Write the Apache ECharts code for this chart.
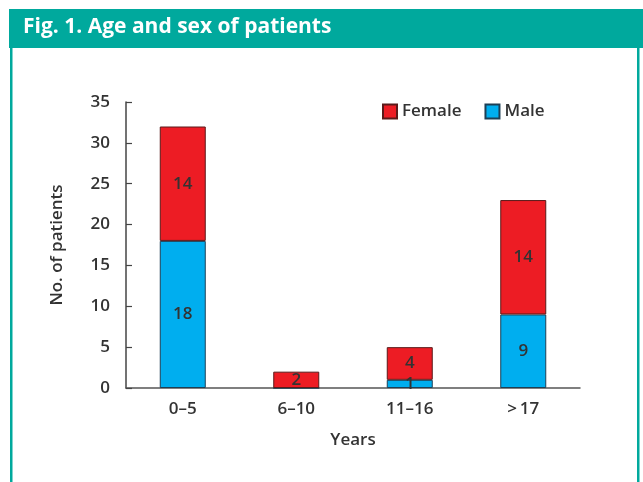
<!DOCTYPE html>
<html>
<head>
<meta charset="utf-8">
<script src="https://cdn.jsdelivr.net/npm/echarts@6/dist/echarts.min.js"></script>
<style>
  html, body { margin: 0; padding: 0; background: #fff; }
  #chart { width: 643px; height: 482px; }
</style>
</head>
<body>
<div id="chart"></div>
<script>
var ageGroups = ['0\u20135', '6\u201310', '11\u201316', '>\u200917'];
var maleCounts = [18, 0, 1, 9];
var femaleCounts = [14, 2, 4, 14];
var yTicks = [0, 5, 10, 15, 20, 25, 30, 35];

var teal = '#00A99D';
var textColor = '#333333';
var fontName = 'Open Sans';

var chartDom = document.getElementById('chart');
var myChart = echarts.init(chartDom);
var option;

// hide the label of empty segments
function segmentLabel(params) {
  return params.value > 0 ? String(params.value) : '';
}

option = {
  animation: false,
  textStyle: { fontFamily: fontName },
  graphic: [
    // header band
    { type: 'rect', shape: { x: 9, y: 9, width: 634, height: 39 }, style: { fill: teal } },
    { type: 'text', left: 23, top: 17, style: { text: 'Fig. 1. Age and sex of patients', fill: '#fff', font: 'bold 21px "Open Sans"' } },
    // side borders of the panel
    { type: 'rect', shape: { x: 10, y: 48, width: 2.5, height: 434 }, style: { fill: teal } },
    { type: 'rect', shape: { x: 637, y: 48, width: 2.5, height: 434 }, style: { fill: teal } }
  ],
  legend: {
    data: ['Female', 'Male'],
    top: 98,
    left: 377,
    icon: 'rect',
    itemWidth: 14,
    itemHeight: 14,
    itemGap: 23,
    textStyle: { fontSize: 17, fontWeight: 600, color: textColor, fontFamily: fontName }
  },
  grid: { left: 126, right: 63, top: 102, bottom: 94 },
  xAxis: {
    type: 'category',
    data: ageGroups,
    name: 'Years',
    nameLocation: 'middle',
    nameGap: 44,
    nameTextStyle: { fontSize: 17, fontWeight: 600, color: textColor },
    axisLine: { lineStyle: { color: '#555', width: 1.5 } },
    axisTick: { show: false },
    axisLabel: { fontSize: 17, fontWeight: 600, color: textColor, margin: 13 }
  },
  yAxis: {
    type: 'value',
    min: 0,
    max: yTicks[yTicks.length - 1],
    interval: 5,
    name: 'No. of patients',
    nameLocation: 'middle',
    nameGap: 60,
    nameTextStyle: { fontSize: 17, fontWeight: 600, color: textColor },
    axisLine: { show: true, lineStyle: { color: '#444', width: 1.5 } },
    axisTick: { show: true, inside: true, length: 6, lineStyle: { color: '#444', width: 1.2 } },
    axisLabel: { fontSize: 17, fontWeight: 600, color: textColor, margin: 16 },
    splitLine: { show: false }
  },
  series: [
    {
      name: 'Male',
      type: 'bar',
      stack: 'total',
      barWidth: 46,
      data: maleCounts,
      itemStyle: { color: '#00AEEF', borderColor: '#1d3f55', borderWidth: 1 },
      label: { show: true, position: 'inside', formatter: segmentLabel, fontSize: 17, fontWeight: 600, color: textColor }
    },
    {
      name: 'Female',
      type: 'bar',
      stack: 'total',
      barWidth: 46,
      data: femaleCounts,
      itemStyle: { color: '#ED1C24', borderColor: '#5a1a1a', borderWidth: 1 },
      label: { show: true, position: 'inside', formatter: segmentLabel, fontSize: 17, fontWeight: 600, color: textColor }
    }
  ]
};

option && myChart.setOption(option);
</script>
</body>
</html>
